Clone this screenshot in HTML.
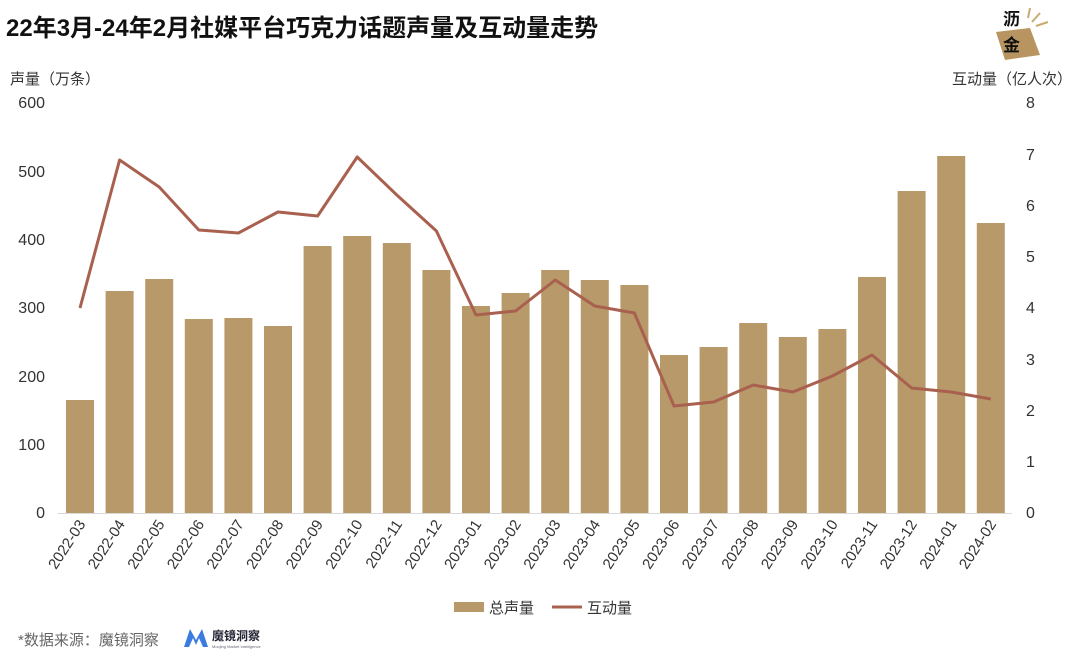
<!DOCTYPE html>
<html><head><meta charset="utf-8"><style>
body{margin:0;background:#fff;}
svg text{font-family:"Liberation Sans","Noto Sans CJK SC",sans-serif;}
</style></head><body>
<svg width="1080" height="661" xmlns="http://www.w3.org/2000/svg">
<text x="6" y="36" font-size="24" font-weight="bold" fill="#111">22年3月-24年2月社媒平台巧克力话题声量及互动量走势</text>
<g>
<polygon points="996,32 1030,28 1040,55 1005,60" fill="#b89560"/>
<line x1="1032" y1="22" x2="1040" y2="13" stroke="#c9aa70" stroke-width="2"/>
<line x1="1036" y1="26" x2="1048" y2="22" stroke="#c9aa70" stroke-width="2"/>
<line x1="1028" y1="18" x2="1030" y2="8" stroke="#c9aa70" stroke-width="2"/>
<text x="1003" y="25" font-size="17" font-weight="bold" fill="#111">沥</text>
<text x="1003" y="51" font-size="17" font-weight="bold" fill="#111">金</text>
</g>
<text x="10" y="84" font-size="15" fill="#333">声量（万条）</text>
<text x="952" y="84" font-size="15" fill="#333">互动量（亿人次）</text>
<g font-size="16" fill="#333" text-anchor="end">
<text x="45" y="108">600</text><text x="45" y="177">500</text><text x="45" y="245">400</text><text x="45" y="313">300</text><text x="45" y="382">200</text><text x="45" y="450">100</text><text x="45" y="518">0</text>
</g>
<g font-size="16" fill="#333">
<text x="1026" y="108">8</text><text x="1026" y="160">7</text><text x="1026" y="211">6</text><text x="1026" y="262">5</text><text x="1026" y="313">4</text><text x="1026" y="365">3</text><text x="1026" y="416">2</text><text x="1026" y="467">1</text><text x="1026" y="518">0</text>
</g>
<line x1="58" y1="513.5" x2="1012" y2="513.5" stroke="#d9d9d9" stroke-width="1"/>
<g fill="#b8996a" id="bars"></g>
<polyline id="ln" fill="none" stroke="#a9604f" stroke-width="3" stroke-linejoin="round"/>
<g id="lbl" font-size="15" fill="#333"></g>
<rect x="454" y="602" width="30" height="10" fill="#b8996a"/>
<text x="489" y="613" font-size="15" fill="#333">总声量</text>
<line x1="552" y1="607" x2="582" y2="607" stroke="#a9604f" stroke-width="3"/>
<text x="587" y="613" font-size="15" fill="#333">互动量</text>
<text x="18" y="645" font-size="15" fill="#666">*数据来源：魔镜洞察</text>
<path d="M184,647 L190,629 L196,640 L202,629 L208,647 L203,647 L199,638 L196,645 L193,638 L189,647Z" fill="#3a7be0"/>
<text x="212" y="640" font-size="12" font-weight="bold" fill="#223">魔镜洞察</text>
<text x="212" y="648" font-size="4" fill="#667">Moojing Market Intelligence</text>
</svg>
<script>
var tops=[400,291,279,319,318,326,246,236,243,270,306,293,270,280,285,355,347,323,337,329,277,191,156,223];
var ly=[308,160,187,230,233,212,216,157,195,231,315,311,280,306,313,406,402,385,392,376,355,388,392,399];
var ns="http://www.w3.org/2000/svg",b=document.getElementById('bars'),l=document.getElementById('lbl'),pts=[];
for(var i=0;i<24;i++){var cx=80+i*39.6;
var r=document.createElementNS(ns,'rect');r.setAttribute('x',cx-14);r.setAttribute('y',tops[i]);r.setAttribute('width',28);r.setAttribute('height',513-tops[i]);b.appendChild(r);
pts.push(cx+','+ly[i]);
var y=2022+Math.floor((i+2)/12),m=(i+2)%12+1;
var t=document.createElementNS(ns,'text');t.setAttribute('text-anchor','end');t.setAttribute('transform','translate('+(cx+6)+',524) rotate(-57)');t.textContent=y+'-'+(m<10?'0':'')+m;l.appendChild(t);}
document.getElementById('ln').setAttribute('points',pts.join(' '));
</script>
</body></html>
